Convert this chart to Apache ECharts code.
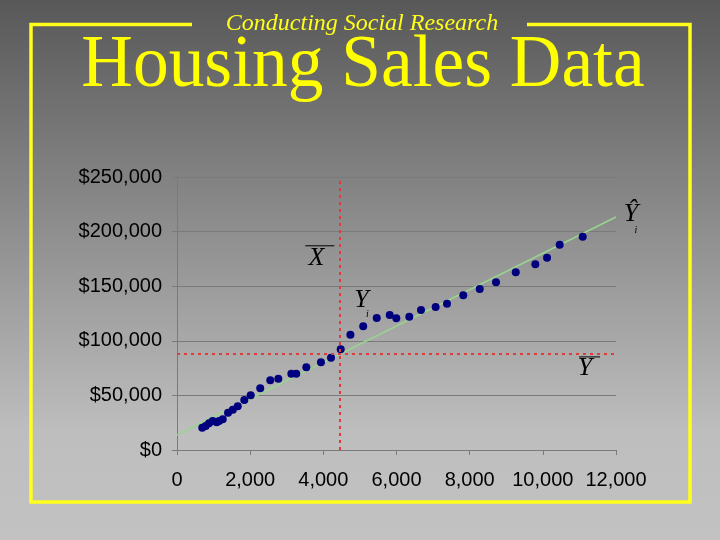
<!DOCTYPE html>
<html><head><meta charset="utf-8">
<script src="https://cdn.jsdelivr.net/npm/echarts@6/dist/echarts.min.js"></script>
<style>html,body{margin:0;padding:0;width:720px;height:540px;overflow:hidden}#c{width:720px;height:540px}</style>
</head><body><div id="c"></div>
<script>
// Square footage (x) and sale price (y)
const sqft = [690,785,875,975,1085,1150,1250,1395,1525,1660,1840,2015,2275,2550,2770,3125,3260,3535,3935,4210,4475,4740,5090,5460,5815,5995,6350,6670,7070,7380,7825,8275,8720,9260,9795,10115,10460,11090];
const price = [20400,22000,24500,26600,25400,26600,28100,34200,36900,40000,45800,50100,56500,63800,65300,69900,69900,75700,80300,84500,92200,105600,113300,120900,123600,120600,122100,128200,131000,134000,141700,147400,153600,162700,170100,176100,188000,195300];
const meanX = 4437;
const meanY = 88000;
const fitX = [0, 12000];
const fitY = [13700, 213400];
const titleText = 'Housing Sales Data';
const subtitleText = 'Conducting Social Research';

const fmt = v => String(v).replace(/\B(?=(\d{3})+(?!\d))/g, ',');
const chart = echarts.init(document.getElementById('c'), null, {renderer: 'canvas'});
const gray = '#7a7a7a';
const option = {
  animation: false,
  backgroundColor: new echarts.graphic.LinearGradient(0, 0, 0, 1, [
    {offset: 0, color: '#585858'}, {offset: 0.8, color: '#bebebe'}, {offset: 1, color: '#c2c2c2'}
  ]),
  grid: {left: 177, right: 104, top: 177, bottom: 90, containLabel: false},
  xAxis: {
    type: 'value', min: 0, max: 12000, interval: 2000,
    axisLine: {show: true, onZero: false, lineStyle: {color: gray}},
    axisTick: {show: true, inside: false, length: 5, lineStyle: {color: gray}},
    splitLine: {show: false},
    axisLabel: {color: '#000', fontFamily: 'Liberation Sans', fontSize: 20, margin: 20, formatter: v => fmt(v)}
  },
  yAxis: {
    type: 'value', min: 0, max: 250000, interval: 50000,
    axisLine: {show: true, lineStyle: {color: gray}},
    axisTick: {show: true, inside: false, length: 5, lineStyle: {color: gray}},
    splitLine: {show: true, lineStyle: {color: gray, width: 1}},
    axisLabel: {color: '#000', fontFamily: 'Liberation Sans', fontSize: 20, margin: 15, formatter: v => '$' + fmt(v)}
  },
  series: [
    {
      type: 'line', data: fitX.map((x, i) => [x, fitY[i]]), symbol: 'none', z: 2,
      lineStyle: {color: '#98d490', width: 1.5}
    },
    {
      type: 'scatter', data: sqft.map((x, i) => [x, price[i]]), symbolSize: 8, z: 4,
      itemStyle: {color: '#00007f', opacity: 1},
      markLine: {
        silent: true, symbol: 'none', label: {show: false},
        lineStyle: {color: '#e03a3a', type: [3, 4], width: 2, opacity: 1},
        data: [{xAxis: meanX}, {yAxis: meanY}]
      }
    }
  ],
  graphic: [
    {type: 'polyline', z: 10, shape: {points: [[192, 24.5], [31, 24.5], [31, 502], [690, 502], [690, 24.5], [527, 24.5]]},
     style: {stroke: '#ffff1a', lineWidth: 3.5, fill: null}},
    {type: 'text', z: 10, x: 362, y: 24, style: {text: subtitleText, font: 'italic 24px "Liberation Serif"', fill: '#ffff1a', align: 'center', verticalAlign: 'middle'}},
    {type: 'text', z: 10, x: 363, y: 67, scaleX: 0.965, style: {text: titleText, font: '74px "Liberation Serif"', fill: '#ffff00', align: 'center', verticalAlign: 'middle',
      shadowColor: 'rgba(0,0,0,0.6)', shadowOffsetX: 3, shadowOffsetY: 3, shadowBlur: 3}}
  ]
};
chart.setOption(option);

// annotation labels placed relative to data positions
const px = p => chart.convertToPixel({gridIndex: 0}, p);
const lab = [];
const symFont = 'italic 26px "Liberation Serif"';
const pX = px([meanX, 176000]);
lab.push({type: 'text', z: 10, x: pX[0] - 23, y: pX[1], style: {text: 'X', font: symFont, fill: '#000', align: 'center', verticalAlign: 'middle'}});
lab.push({type: 'line', z: 10, shape: {x1: pX[0] - 34, y1: pX[1] - 12, x2: pX[0] - 5, y2: pX[1] - 12}, style: {stroke: '#000', lineWidth: 1}});
const pYi = px([sqft[21], price[21]]);
lab.push({type: 'text', z: 10, x: pYi[0] + 11, y: pYi[1] - 35, style: {text: 'Y', font: symFont, fill: '#000', align: 'center', verticalAlign: 'middle'}});
lab.push({type: 'text', z: 10, x: pYi[0] + 17, y: pYi[1] - 20, style: {text: 'i', font: 'italic 10px "Liberation Serif"', fill: '#000', align: 'center', verticalAlign: 'middle'}});
const pF = px([fitX[1], fitY[1]]);
lab.push({type: 'text', z: 10, x: pF[0] + 15, y: pF[1] - 3, style: {text: 'Ŷ', font: symFont, fill: '#000', align: 'center', verticalAlign: 'middle'}});
lab.push({type: 'text', z: 10, x: pF[0] + 20, y: pF[1] + 13, style: {text: 'i', font: 'italic 10px "Liberation Serif"', fill: '#000', align: 'center', verticalAlign: 'middle'}});
const pM = px([12000, meanY]);
lab.push({type: 'text', z: 10, x: pM[0] - 31, y: pM[1] + 14, style: {text: 'Y', font: symFont, fill: '#000', align: 'center', verticalAlign: 'middle'}});
lab.push({type: 'line', z: 10, shape: {x1: pM[0] - 37, y1: pM[1] + 3, x2: pM[0] - 16, y2: pM[1] + 3}, style: {stroke: '#000', lineWidth: 1}});
chart.setOption({graphic: option.graphic.concat(lab)});
</script></body></html>
